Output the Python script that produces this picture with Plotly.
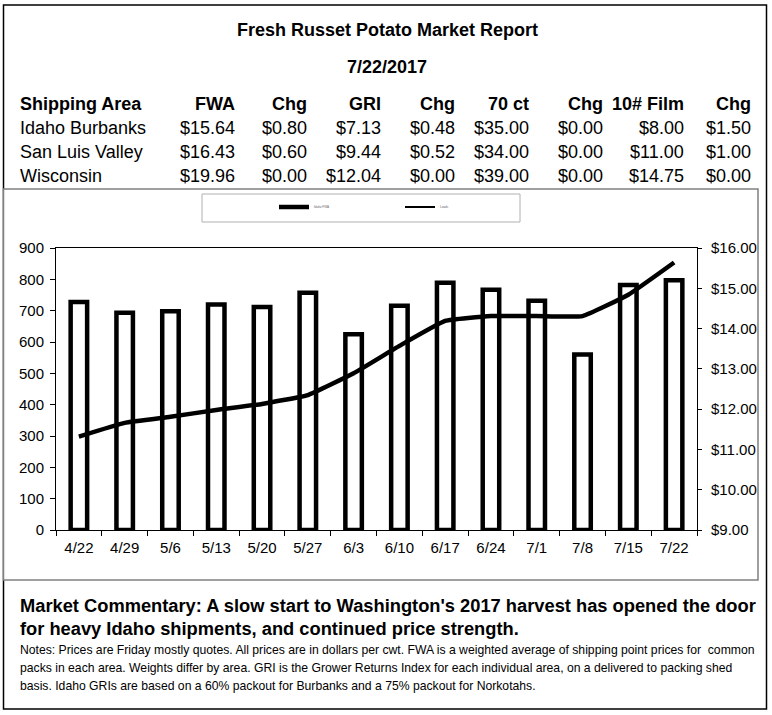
import plotly.graph_objects as go

# ---------------- data ----------------
weeks = ["4/22", "4/29", "5/6", "5/13", "5/20", "5/27", "6/3", "6/10",
         "6/17", "6/24", "7/1", "7/8", "7/15", "7/22"]
shipments = [728, 693, 698, 720, 712, 757, 625, 716, 789, 767, 732, 560, 782, 797]
idaho_fwa = [11.32, 11.66, 11.81, 11.98, 12.13, 12.35, 12.89, 13.57,
             14.19, 14.31, 14.31, 14.31, 14.84, 15.64]

table_header = ["Shipping Area", "FWA", "Chg", "GRI", "Chg", "70 ct", "Chg", "10# Film", "Chg"]
table_areas = ["Idaho Burbanks", "San Luis Valley", "Wisconsin"]
table_fwa = ["$15.64", "$16.43", "$19.96"]
table_fwa_chg = ["$0.80", "$0.60", "$0.00"]
table_gri = ["$7.13", "$9.44", "$12.04"]
table_gri_chg = ["$0.48", "$0.52", "$0.00"]
table_70ct = ["$35.00", "$34.00", "$39.00"]
table_70ct_chg = ["$0.00", "$0.00", "$0.00"]
table_film = ["$8.00", "$11.00", "$14.75"]
table_film_chg = ["$1.50", "$1.00", "$0.00"]

title = "Fresh Russet Potato Market Report"
report_date = "7/22/2017"
commentary = ["Market Commentary: A slow start to Washington's 2017 harvest has opened the door",
              "for heavy Idaho shipments, and continued price strength."]
notes = ["Notes: Prices are Friday mostly quotes. All prices are in dollars per cwt. FWA is a weighted average of shipping point prices for  common",
         "packs in each area. Weights differ by area. GRI is the Grower Returns Index for each individual area, on a delivered to packing shed",
         "basis. Idaho GRIs are based on a 60% packout for Burbanks and a 75% packout for Norkotahs."]

# ---------------- layout geometry ----------------
W, H = 772, 715
L, R, T, B = 56, 697, 248, 530
FONT = "Liberation Sans, Arial, sans-serif"


def px(X):
    return (X - L) / (R - L)


def py(Y):
    return (B - Y) / (B - T)


fig = go.Figure()
fig.add_trace(go.Bar(
    x=weeks, y=shipments, width=0.36, showlegend=False,
    marker=dict(color="white", line=dict(color="black", width=4.5)),
))
fig.add_trace(go.Scatter(
    x=weeks, y=idaho_fwa, yaxis="y2", mode="lines", name="Idaho FWA",
    line=dict(color="black", width=4.5, shape="spline", smoothing=0.35),
))
# legend proxy for second entry
fig.add_trace(go.Scatter(
    x=[None], y=[None], yaxis="y2", mode="lines", name="Loads",
    line=dict(color="black", width=2),
))

annotations = []


def add_text(text, X, Y, size, anchor="center", bold=False):
    annotations.append(dict(text=("<b>%s</b>" % text) if bold else text,
                            x=px(X), y=py(Y), xref="paper", yref="paper",
                            xanchor=anchor, yanchor="middle", showarrow=False,
                            font=dict(family=FONT, size=size, color="black")))


add_text(title, 387, 30, 18, bold=True)
add_text(report_date, 387, 67, 18, bold=True)

col_right = [None, 237, 309, 383, 457, 531, 605, 686, 753]
cols = [table_areas, table_fwa, table_fwa_chg, table_gri, table_gri_chg,
        table_70ct, table_70ct_chg, table_film, table_film_chg]
row_y = [128, 152, 176]

for ci, head in enumerate(table_header):
    if ci == 0:
        xa, xx = "left", 18
    else:
        xa, xx = "right", col_right[ci]
    add_text(head, xx, 104, 18, anchor=xa, bold=True)
    for ri, ry in enumerate(row_y):
        add_text(cols[ci][ri], xx, ry, 18, anchor=xa)

for i, line in enumerate(commentary):
    add_text(line, 18, [605, 628][i], 18.3, anchor="left", bold=True)
for i, line in enumerate(notes):
    add_text(line, 18, [650, 668, 686][i], 12.2, anchor="left")

shapes = [
    dict(type="rect", xref="paper", yref="paper", x0=px(3.5), x1=px(766.5), y0=py(5), y1=py(709),
         line=dict(color="black", width=1.5), layer="below"),
    dict(type="rect", xref="paper", yref="paper", x0=px(3.5), x1=px(758), y0=py(189), y1=py(580),
         line=dict(color="#808080", width=1.5), fillcolor="white", layer="below"),
    dict(type="rect", xref="paper", yref="paper", x0=px(202), x1=px(520), y0=py(194), y1=py(222),
         line=dict(color="#b0b0b0", width=1), layer="below"),
]

fig.update_layout(
    width=W, height=H,
    margin=dict(l=L, r=W - R, t=T, b=H - B, pad=0),
    paper_bgcolor="white", plot_bgcolor="white",
    font=dict(family=FONT, size=15, color="black"),
    showlegend=True,
    legend=dict(orientation="h", x=px(274), y=py(207), xanchor="left", yanchor="middle",
                font=dict(size=3, color="#666666"), bgcolor="rgba(0,0,0,0)",
                entrywidth=81, entrywidthmode="pixels", traceorder="normal"),
    xaxis=dict(type="category", showline=True, linecolor="black", linewidth=1, mirror=True,
               ticks="outside", tickson="boundaries", ticklen=5, tickcolor="black",
               showgrid=False, tickfont=dict(size=15), ticklabelstandoff=4),
    yaxis=dict(range=[0, 900], dtick=100, showline=True, linecolor="black", linewidth=1,
               ticks="outside", ticklen=5, tickcolor="black", showgrid=False, zeroline=False,
               tickfont=dict(size=15), ticklabelstandoff=3),
    yaxis2=dict(range=[9, 16], dtick=1, overlaying="y", side="right", showline=True,
                linecolor="black", linewidth=1, ticks="outside", ticklen=4, tickcolor="black",
                tickprefix="$", tickformat=".2f", showgrid=False, zeroline=False,
                tickfont=dict(size=15), ticklabelstandoff=6),
    annotations=annotations,
    shapes=shapes,
)

fig.write_html("out.html", config={"displayModeBar": False},
               post_script="document.body.style.margin='0';")
